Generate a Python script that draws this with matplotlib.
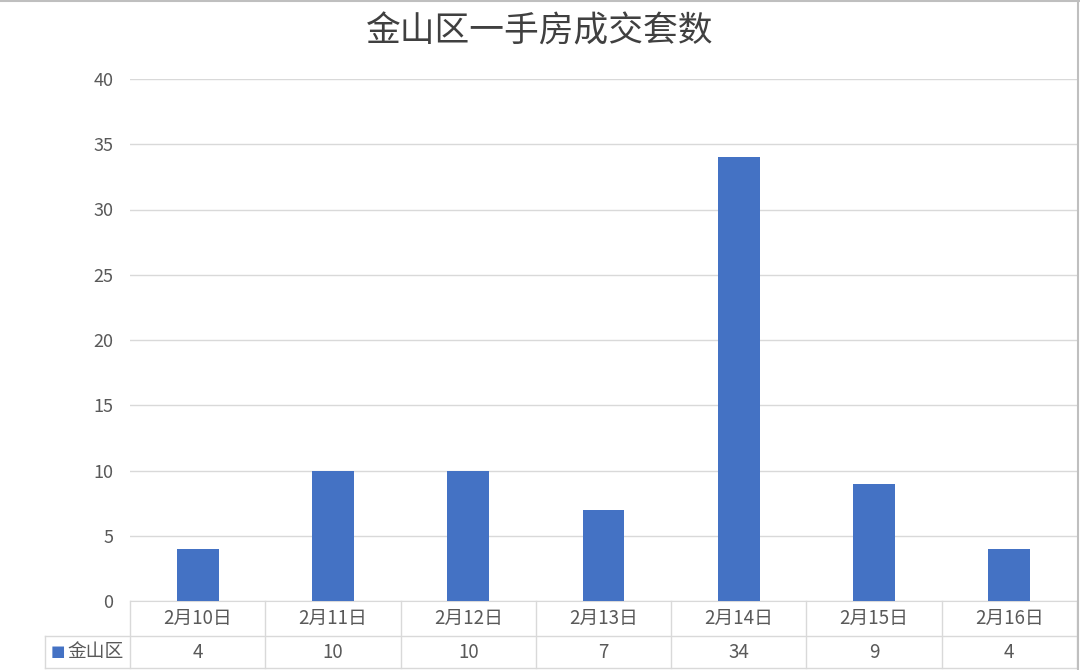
import matplotlib.pyplot as plt
from matplotlib.lines import Line2D
import matplotlib.transforms as mtransforms

plt.rcParams['font.family'] = ['Noto Sans CJK SC', 'DejaVu Sans']

title = '金山区一手房成交套数'
series_name = '金山区'
dates = ['2月10日', '2月11日', '2月12日', '2月13日', '2月14日', '2月15日', '2月16日']
counts = [4, 10, 10, 7, 34, 9, 4]
y_ticks = [0, 5, 10, 15, 20, 25, 30, 35, 40]

bar_color = '#4472C4'
grid_color = '#d9d9d9'
text_color = '#595959'

fig = plt.figure(figsize=(10.8, 6.7), dpi=100)
ax = fig.add_axes([130 / 1080, 69 / 670, 947 / 1080, 522 / 670])

x = range(len(dates))
ax.bar(x, counts, width=0.31, color=bar_color, zorder=3)
ax.set_xlim(-0.5, len(dates) - 0.5)
ax.set_ylim(0, 40)
ax.set_yticks(y_ticks)
ax.set_yticklabels([str(v) for v in y_ticks], fontsize=13, color=text_color)
ax.tick_params(axis='y', length=0, pad=12)
ax.set_xticks([])
ax.grid(axis='y', color=grid_color, lw=1, zorder=0)
for side in ['top', 'right', 'left']:
    ax.spines[side].set_visible(False)
ax.spines['bottom'].set_color(grid_color)

fig.text(0.5, 1 - 32 / 670, title, ha='center', va='center',
         fontsize=25, color='#404040')

# data table under the axis
r1 = -35 / 522
r2 = -67 / 522
legend_left = -85 / 947
n = len(dates)
for y in [r1, r2]:
    ax.add_line(Line2D([legend_left, 1], [y, y], transform=ax.transAxes,
                       color=grid_color, lw=1, clip_on=False))
for i in range(n + 1):
    xf = i / n
    ax.add_line(Line2D([xf, xf], [0, r2], transform=ax.transAxes,
                       color=grid_color, lw=1, clip_on=False))
ax.add_line(Line2D([legend_left, legend_left], [r1, r2], transform=ax.transAxes,
                   color=grid_color, lw=1, clip_on=False))

trans = mtransforms.blended_transform_factory(ax.transData, ax.transAxes)
for i, (d, c) in enumerate(zip(dates, counts)):
    ax.text(i, r1 / 2, d, transform=trans, ha='center', va='center',
            fontsize=13.5, color=text_color)
    ax.text(i, (r1 + r2) / 2, str(c), transform=trans, ha='center', va='center',
            fontsize=13.5, color=text_color)

ax.text(legend_left + 6 / 947, (r1 + r2) / 2, '■', transform=ax.transAxes,
        ha='left', va='center', fontsize=11, color=bar_color,
        family=['DejaVu Sans'])
ax.text(legend_left + 22 / 947, (r1 + r2) / 2, series_name, transform=ax.transAxes,
        ha='left', va='center', fontsize=13.5, color=text_color)

# chart border
fig.add_artist(Line2D([0, 1], [0.999, 0.999], transform=fig.transFigure,
                      color='#bfbfbf', lw=1.5))
fig.add_artist(Line2D([0.998, 0.998], [0, 1], transform=fig.transFigure,
                      color='#bfbfbf', lw=1.5))

fig.savefig('out.png', dpi=100)
